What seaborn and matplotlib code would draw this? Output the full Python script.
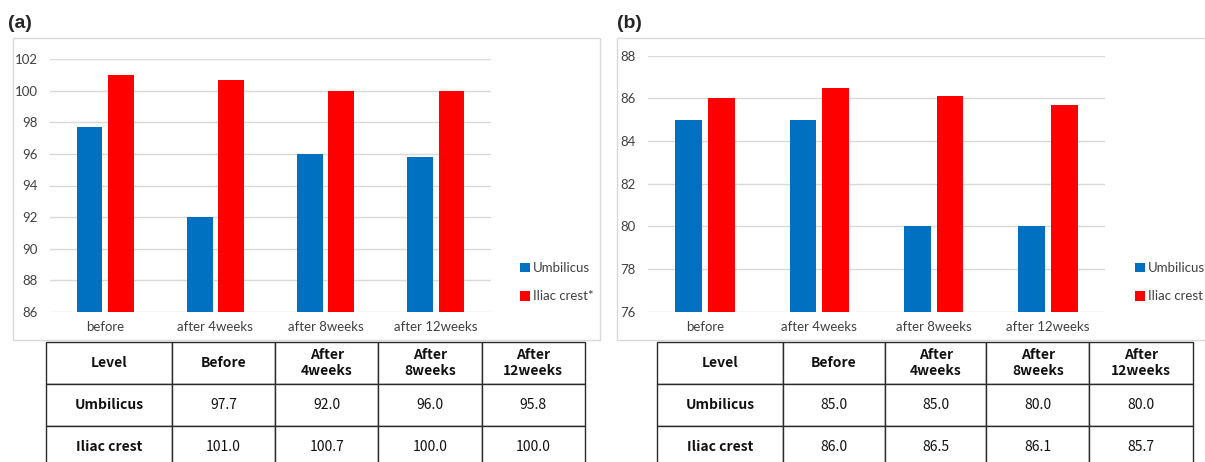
import numpy as np
import pandas as pd
import matplotlib
matplotlib.use("Agg")
import matplotlib.pyplot as plt
from matplotlib.patches import Rectangle
import seaborn as sns

# ---- data ----
categories = ["before", "after 4weeks", "after 8weeks", "after 12weeks"]
table_headers = ["Level", "Before", "After\n4weeks", "After\n8weeks", "After\n12weeks"]
series_names = ["Umbilicus", "Iliac crest"]
legend_labels_a = ["Umbilicus", "Iliac crest*"]
legend_labels_b = ["Umbilicus", "Iliac crest"]

a_umbilicus = [97.7, 92.0, 96.0, 95.8]
a_iliac = [101.0, 100.7, 100.0, 100.0]
b_umbilicus = [85.0, 85.0, 80.0, 80.0]
b_iliac = [86.0, 86.5, 86.1, 85.7]

a_yticks = [86, 88, 90, 92, 94, 96, 98, 100, 102]
b_yticks = [76, 78, 80, 82, 84, 86, 88]

BLUE = "#0070C0"
RED = "#FF0000"
GRID = "#D9D9D9"
TXT = "#404040"

W, H = 1205, 462
sns.set_theme(style="white")
plt.rcParams["font.family"] = ["Lato", "DejaVu Sans"]

fig = plt.figure(figsize=(W / 100, H / 100), dpi=100)
fig.patch.set_facecolor("white")


def fx(px):
    return px / W


def fy(py):
    return 1 - py / H


def make_df(u, i):
    rows = []
    for c, v in zip(categories, u):
        rows.append((c, series_names[0], v))
    for c, v in zip(categories, i):
        rows.append((c, series_names[1], v))
    return pd.DataFrame(rows, columns=["time", "site", "value"])


def draw_chart(rect, u, i, yticks, leg_labels, leg_xy):
    ax = fig.add_axes(rect)
    df = make_df(u, i)
    sns.barplot(data=df, x="time", y="value", hue="site", order=categories,
                hue_order=series_names, palette=[BLUE, RED], saturation=1,
                width=0.57, gap=0.18, linewidth=0, errorbar=None, ax=ax,
                legend=True)
    ax.set_ylim(yticks[0], yticks[-1])
    ax.set_xlim(-0.5, len(categories) - 0.5)
    ax.set_yticks(yticks)
    ax.set_yticklabels([str(t) for t in yticks])
    ax.yaxis.grid(True, color=GRID, linewidth=1.0)
    ax.set_axisbelow(True)
    for s in ax.spines.values():
        s.set_visible(False)
    ax.set_xlabel("")
    ax.set_ylabel("")
    ax.tick_params(axis="y", length=0, pad=9, labelsize=9.5, labelcolor=TXT)
    ax.tick_params(axis="x", length=0, pad=7, labelsize=9.5, labelcolor=TXT)
    ax.set_facecolor("none")
    handles, _ = ax.get_legend_handles_labels()
    ax.get_legend().remove()
    ax.legend(handles, leg_labels, loc="upper left",
              bbox_to_anchor=leg_xy, bbox_transform=fig.transFigure,
              frameon=False, fontsize=9.5, handlelength=0.75, handleheight=0.75,
              handletextpad=0.2, labelspacing=1.25, borderpad=0,
              borderaxespad=0, labelcolor=TXT)
    return ax


def draw_table(rect, u, i, widths):
    ax = fig.add_axes(rect)
    ax.axis("off")
    cell_text = [[series_names[0]] + [f"{v:.1f}" for v in u],
                 [series_names[1]] + [f"{v:.1f}" for v in i]]
    tw = sum(widths)
    tbl = ax.table(cellText=cell_text, colLabels=table_headers,
                   colWidths=[w / tw for w in widths], cellLoc="center",
                   bbox=[0, 0, 1, 1])
    tbl.auto_set_font_size(False)
    for (r, c), cell in tbl.get_celld().items():
        cell.set_edgecolor("#2a2a2a")
        cell.set_linewidth(1.0)
        t = cell.get_text()
        t.set_fontsize(10)
        t.set_family(["Noto Sans CJK KR", "DejaVu Sans"])
        t.set_linespacing(1.15)
        t.set_color("#111111")
        if r == 0 or c == 0:
            t.set_fontweight("bold")
    return ax


# chart boxes
fig.add_artist(Rectangle((fx(12.7), fy(340)), fx(600 - 12.7), (340 - 37.7) / H,
                         transform=fig.transFigure, fill=False, ec=GRID, lw=1))
fig.add_artist(Rectangle((fx(616.7), fy(340)), fx(1220 - 616.7), (340 - 38.3) / H,
                         transform=fig.transFigure, fill=False, ec=GRID, lw=1))

draw_chart([fx(50), fy(311.7), fx(441), 252.4 / H], a_umbilicus, a_iliac,
           a_yticks, legend_labels_a, (fx(520), fy(262)))
draw_chart([fx(648), fy(311.7), fx(457), 256 / H], b_umbilicus, b_iliac,
           b_yticks, legend_labels_b, (fx(1135), fy(262)))

draw_table([fx(46), fy(468), fx(585 - 46), 126 / H], a_umbilicus, a_iliac,
           [126, 103, 103.4, 103.3, 103.3])
draw_table([fx(657), fy(468), fx(1193 - 657), 126 / H], b_umbilicus, b_iliac,
           [125.7, 102.5, 101.2, 103, 103.5])

fig.text(fx(8), fy(24), "(a)", fontsize=14, fontweight="bold", va="center",
         ha="left", family=["Liberation Sans", "DejaVu Sans"])
fig.text(fx(617), fy(24), "(b)", fontsize=14, fontweight="bold", va="center",
         ha="left", family=["Liberation Sans", "DejaVu Sans"])

fig.savefig("out.png", dpi=100, facecolor="white")
